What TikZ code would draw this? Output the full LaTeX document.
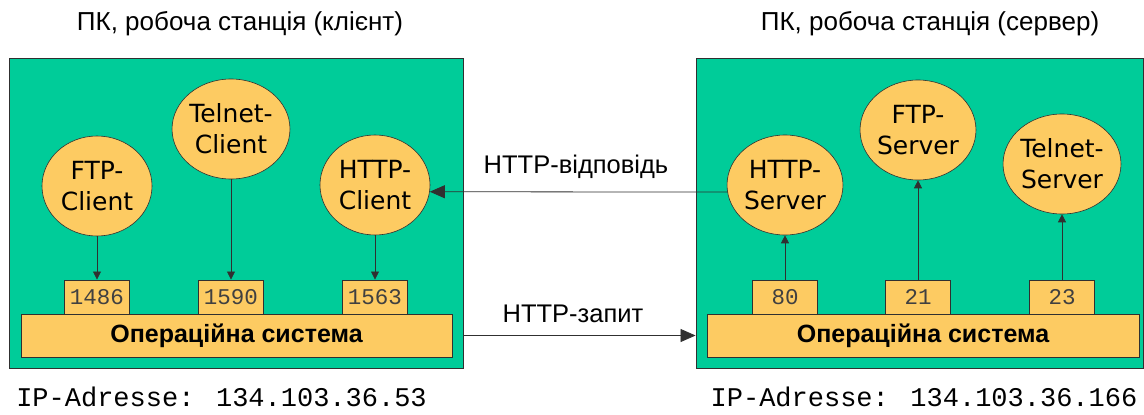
\documentclass[tikz,border=0pt]{standalone}
\usepackage{fontspec}
\setmainfont{Liberation Sans}
\newfontfamily\circfont{DejaVu Sans}
\newfontfamily\monofont{Liberation Mono}
\usetikzlibrary{shapes.geometric,arrows.meta,calc}
\definecolor{boxgreen}{HTML}{00CC99}
\definecolor{appyellow}{HTML}{FDCB62}
\definecolor{edgecol}{HTML}{303030}
\begin{document}
\begin{tikzpicture}[x=1pt,y=-1pt,
  host/.style={draw=edgecol,line width=0.9pt,fill=boxgreen,inner sep=0pt},
  app/.style={ellipse,draw=edgecol,line width=0.6pt,fill=appyellow,minimum width=110pt,minimum height=100pt,inner sep=0pt,align=center,font=\circfont\fontsize{25}{31}\selectfont},
  port/.style={draw=edgecol,line width=0.9pt,fill=appyellow,minimum width=65pt,minimum height=34pt,inner sep=0pt,font=\monofont\fontsize{22.5}{22.5}\selectfont,text=black!75},
  osbar/.style={draw=edgecol,line width=0.9pt,fill=appyellow,minimum height=43pt,inner sep=0pt,font=\bfseries\fontsize{25}{25}\selectfont},
  link/.style={draw=edgecol,line width=0.8pt,-{Triangle[length=8pt,width=8pt]}},
  net/.style={draw=edgecol,line width=0.8pt,-{Triangle[length=15pt,width=13pt]}},
  title/.style={font=\fontsize{26}{26}\selectfont},
  lbl/.style={font=\fontsize{25.5}{25.5}\selectfont},
  ipaddr/.style={font=\monofont\fontsize{27}{27}\selectfont}
]
\useasboundingbox (0,0) rectangle (1144,415);
\fill[white] (0,0) rectangle (1144,415);

% titles
\node[title] (tl) at (240,24) {ПК, робоча станція (клієнт)};
\node[title] (tr) at (930,24) {ПК, робоча станція (сервер)};

% host boxes
\node[host,minimum width=454pt,minimum height=310pt] (lhost) at (236,213) {};
\node[host,minimum width=447pt,minimum height=310pt] (rhost) at (919.5,213) {};

% operating systems
\node[osbar,minimum width=431pt] (los) at (236.5,335.5) {Операційна система};
\node[osbar,minimum width=432pt] (ros) at (923,335.5) {Операційна система};

% ports
\node[port] (p1486) at (97,297) {1486};
\node[port] (p1590) at (231,297) {1590};
\node[port] (p1563) at (375,297) {1563};
\node[port] (p80) at (785,297) {80};
\node[port] (p21) at (918,297) {21};
\node[port] (p23) at (1062,297) {23};

% applications
\node[app] (fc) at (97,186) {FTP-\\Client};
\node[app] (tc) at (231,129) {Telnet-\\Client};
\node[app] (hc) at (375,185) {HTTP-\\Client};
\node[app] (hs) at (785,185) {HTTP-\\Server};
\node[app] (fs) at (918,130) {FTP-\\Server};
\node[app] (ts) at (1062,164) {Telnet-\\Server};

% local connectors
\draw[link] (fc.south) -- (p1486.north);
\draw[link] (tc.south) -- (p1590.north);
\draw[link] (hc.south) -- (p1563.north);
\draw[link] (p80.north) -- (hs.south);
\draw[link] (p21.north) -- (fs.south);
\draw[link] (p23.north) -- (ts.south);

% network
\draw[net] (hs.187) -- (hc.353);
\draw[net] (lhost.east |- los.center) -- (rhost.west |- ros.center);
\node[lbl] (resp) at (576,167) {HTTP-відповідь};
\node[lbl] (req) at (573,314) {HTTP-запит};

% addresses
\node[ipaddr] (ipl) at (221.5,397) {IP-Adresse: 134.103.36.53};
\node[ipaddr] (ipr) at (924,397) {IP-Adresse: 134.103.36.166};
\end{tikzpicture}
\end{document}
